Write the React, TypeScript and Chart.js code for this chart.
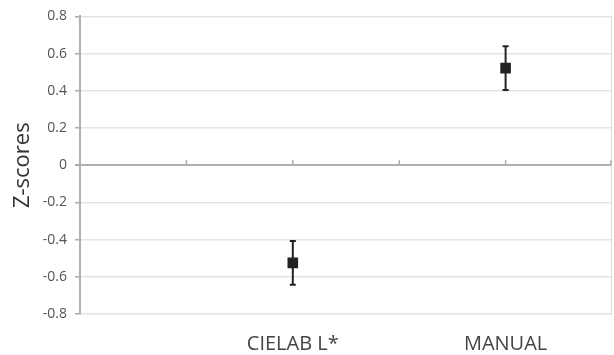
import React, { useEffect, useRef } from "react";
import { Chart, registerables } from "chart.js";

Chart.register(...registerables);

const categories = ["", "", "CIELAB L*", "", "MANUAL", ""];
const xPositions = [2, 4];
const zScores = [-0.525, 0.522];
const errorPlus = [0.118, 0.118];
const errorMinus = [0.118, 0.118];
const yTicks = [-0.8, -0.6, -0.4, -0.2, 0, 0.2, 0.4, 0.6, 0.8];

const fontFamily = "'Open Sans', 'Noto Sans', sans-serif";

const errorBarPlugin = {
  id: "errorBars",
  afterDatasetsDraw(chart: any) {
    const ctx = chart.ctx;
    const xs = chart.scales.x;
    const ys = chart.scales.y;
    ctx.save();
    ctx.strokeStyle = "#222";
    ctx.lineWidth = 2;
    xPositions.forEach((xv, i) => {
      const x = xs.getPixelForValue(xv);
      const yTop = ys.getPixelForValue(zScores[i] + errorPlus[i]);
      const yBot = ys.getPixelForValue(zScores[i] - errorMinus[i]);
      ctx.beginPath();
      ctx.moveTo(x, yTop);
      ctx.lineTo(x, yBot);
      ctx.moveTo(x - 3, yTop);
      ctx.lineTo(x + 3, yTop);
      ctx.moveTo(x - 3, yBot);
      ctx.lineTo(x + 3, yBot);
      ctx.stroke();
    });
    ctx.restore();
  },
  beforeDatasetsDraw(chart: any) {
    const ctx = chart.ctx;
    const xs = chart.scales.x;
    const ys = chart.scales.y;
    const area = chart.chartArea;
    ctx.save();
    // right border
    ctx.strokeStyle = "#dcdcdc";
    ctx.lineWidth = 1;
    ctx.beginPath();
    ctx.moveTo(area.right - 0.5, area.top);
    ctx.lineTo(area.right - 0.5, area.bottom);
    ctx.stroke();
    // tick marks on the zero line
    const y0 = ys.getPixelForValue(0);
    ctx.strokeStyle = "#aaa";
    ctx.lineWidth = 1.5;
    xs.ticks.forEach((t: any) => {
      if (t.value === 0) return;
      const x = Math.min(xs.getPixelForValue(t.value), area.right - 1);
      ctx.beginPath();
      ctx.moveTo(x, y0 - 5);
      ctx.lineTo(x, y0);
      ctx.stroke();
    });
    ctx.restore();
  },
};

export default function App() {
  const canvasRef = useRef<HTMLCanvasElement | null>(null);

  useEffect(() => {
    document.body.style.margin = "0";
    const canvas = canvasRef.current;
    if (!canvas) return;
    const chart = new Chart(canvas, {
      type: "scatter",
      data: {
        datasets: [
          {
            data: xPositions.map((x, i) => ({ x, y: zScores[i] })),
            pointStyle: "rect",
            pointRadius: 7.5,
            pointHoverRadius: 7.5,
            backgroundColor: "#222",
            borderColor: "#222",
            borderWidth: 0,
          },
        ],
      },
      options: {
        animation: false,
        responsive: true,
        maintainAspectRatio: false,
        layout: { autoPadding: false, padding: { top: 15, right: 2, left: 0, bottom: 0 } },
        plugins: {
          legend: { display: false },
          tooltip: { enabled: false },
        },
        scales: {
          x: {
            type: "linear",
            min: 0,
            max: 5,
            afterFit: (scale: any) => {
              scale.height = 41;
              scale.paddingLeft = 0;
              scale.paddingRight = 0;
            },
            afterBuildTicks: (scale: any) => {
              scale.ticks = categories.map((_, i) => ({ value: i }));
            },
            grid: { display: false, drawTicks: false },
            border: { display: false },
            ticks: {
              padding: 18,
              maxRotation: 0,
              autoSkip: false,
              color: "#444",
              font: { family: fontFamily, size: 20 },
              callback: (v: any) => categories[Math.round(Number(v))] ?? "",
            },
          },
          y: {
            min: -0.8,
            max: 0.8,
            afterFit: (scale: any) => {
              scale.width = 80;
            },
            afterBuildTicks: (scale: any) => {
              scale.ticks = yTicks.map((v) => ({ value: v }));
            },
            grid: {
              color: (c: any) => (c.tick && c.tick.value === 0 ? "#b0b0b0" : "#e4e4e4"),
              lineWidth: (c: any) => (c.tick && c.tick.value === 0 ? 2 : 1.5),
              tickColor: "#aaa",
              tickLength: 5,
            },
            border: { display: true, color: "#b0b0b0", width: 2 },
            ticks: {
              padding: 8,
              color: "#555",
              font: { family: fontFamily, size: 14 },
              callback: (v: any) => {
                const n = Number(v);
                if (Math.abs(n) < 1e-9) return "0";
                return n.toFixed(1);
              },
            },
            title: {
              display: true,
              text: "Z-scores",
              color: "#333",
              font: { family: fontFamily, size: 22 },
              padding: { top: 10, bottom: 0 },
            },
          },
        },
      },
      plugins: [errorBarPlugin],
    });
    return () => chart.destroy();
  }, []);

  return (
    <div style={{ position: "fixed", left: 0, top: 0, width: 614, height: 355 }}>
      <canvas ref={canvasRef} />
    </div>
  );
}
